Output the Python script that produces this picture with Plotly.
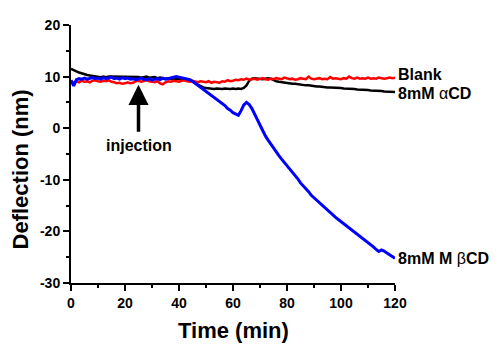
import plotly.graph_objects as go

time_min = list(range(0, 121))

blank = [
    9.0, 8.8, 9.1, 8.9, 9.2, 9.0, 9.1, 8.9, 9.2, 9.3,
    9.1, 9.0, 9.2, 9.1, 9.3, 9.0, 8.9, 8.7, 8.8, 8.6,
    8.7, 8.9, 8.7, 8.8, 9.1, 9.2, 9.0, 9.1, 9.3, 9.1,
    9.0, 8.9, 9.1, 8.7, 8.5, 8.9, 9.1, 9.0, 9.2, 9.1,
    9.0, 9.2, 9.3, 9.1, 9.0, 9.2, 9.0, 8.9, 9.1, 9.0,
    8.9, 9.1, 8.8, 9.0, 8.9, 8.8, 9.1, 9.0, 9.3, 9.1,
    9.2, 9.4, 9.3, 9.5, 9.4, 9.6, 9.4, 9.5, 9.6, 9.4,
    9.5, 9.7, 9.5, 9.4, 9.6, 9.5, 9.7, 9.6, 9.5, 9.8,
    9.6, 9.5, 9.6, 9.4, 9.5, 9.7, 9.6, 9.5, 10.0, 9.6,
    9.5, 9.6, 9.7, 9.5, 9.6, 9.5, 9.9, 9.6, 9.7, 9.6,
    9.5, 9.7, 9.6, 10.0, 9.7, 9.6, 9.8, 9.6, 9.7, 9.6,
    9.8, 9.6, 9.7, 9.6, 9.8, 9.7, 9.6, 9.7, 9.8, 9.7,
    9.8,
]

alpha_cd = [
    11.5, 11.2, 11.0, 10.8, 10.6, 10.5, 10.3, 10.2, 10.1, 10.0,
    10.0, 9.9, 10.0, 9.9, 10.0, 10.0, 9.9, 10.0, 9.9, 10.0,
    9.9, 10.0, 9.9, 9.9, 10.0, 9.9, 9.8, 9.9, 10.0, 9.8,
    9.8, 9.9, 9.7, 9.8, 9.7, 9.6, 9.7, 9.6, 9.5, 9.6,
    9.5, 9.5, 9.6, 9.5, 9.3, 9.0, 8.7, 8.4, 8.1, 7.9,
    7.8, 7.7, 7.7, 7.6, 7.7, 7.6, 7.6, 7.7, 7.6, 7.6,
    7.7, 7.6, 7.7, 7.6, 7.8, 8.3, 9.2, 9.6, 9.7, 9.6,
    9.6, 9.5, 9.6, 9.7, 9.6, 9.3, 9.1, 9.0, 8.9, 8.8,
    8.8, 8.7, 8.6, 8.6, 8.5, 8.5, 8.4, 8.3, 8.3, 8.2,
    8.2, 8.1, 8.1, 8.0, 8.0, 7.9, 7.9, 7.9, 7.8, 7.8,
    7.8, 7.7, 7.7, 7.6, 7.6, 7.6, 7.5, 7.5, 7.5, 7.4,
    7.4, 7.3, 7.3, 7.3, 7.2, 7.2, 7.1, 7.1, 7.1, 7.0,
    7.0,
]

beta_cd = [
    9.3, 8.2, 9.4, 9.6, 9.5, 9.7, 9.5, 9.6, 9.8, 9.6,
    9.7, 9.5, 9.8, 9.6, 9.7, 9.9, 9.6, 9.7, 9.5, 9.8,
    9.6, 9.7, 9.5, 9.6, 9.4, 9.5, 9.7, 9.5, 9.4, 9.6,
    9.3, 9.5, 9.6, 9.4, 9.7, 9.5, 9.6, 9.8, 9.9, 10.0,
    9.9, 9.8, 9.7, 9.6, 9.4, 9.1, 8.7, 8.3, 7.9, 7.5,
    7.1, 6.8, 6.3, 6.0, 5.5, 5.2, 4.7, 4.4, 3.8, 3.5,
    3.0, 2.7, 2.5, 3.4, 4.5, 5.0, 4.6, 3.8, 2.7, 1.6,
    0.5, -0.6, -1.5, -2.3, -3.1, -3.8, -4.5, -5.3, -6.0, -6.6,
    -7.2, -7.9, -8.5, -9.2, -9.8, -10.6, -11.1, -11.8, -12.3, -13.0,
    -13.5, -14.0, -14.4, -14.9, -15.4, -15.8, -16.3, -16.8, -17.3, -17.7,
    -18.1, -18.5, -18.9, -19.3, -19.8, -20.2, -20.6, -21.0, -21.4, -21.8,
    -22.2, -22.6, -23.0, -23.5, -23.9, -23.6, -23.8, -24.2, -24.5, -24.8,
    -25.2,
]

x_ticks = [0, 20, 40, 60, 80, 100, 120]
x_tick_labels = ["0", "20", "40", "60", "80", "100", "120"]
y_ticks = [-30, -20, -10, 0, 10, 20]
y_tick_labels = ["-30", "-20", "-10", "0", "10", "20"]

injection_time = 25

FONT = "Arial, Liberation Sans, sans-serif"

fig = go.Figure()
fig.add_trace(go.Scatter(x=time_min, y=alpha_cd, mode="lines",
                         line=dict(color="black", width=2.5), showlegend=False))
fig.add_trace(go.Scatter(x=time_min, y=blank, mode="lines",
                         line=dict(color="#ff0000", width=2.5), showlegend=False))
fig.add_trace(go.Scatter(x=time_min, y=beta_cd, mode="lines",
                         line=dict(color="#0000ff", width=3), showlegend=False))

lab_font = dict(family=FONT, size=16, color="black")
fig.add_annotation(x=120, y=10.5, xref="x", yref="y", text="<b>Blank</b>",
                   showarrow=False, xanchor="left", xshift=1, font=lab_font)
fig.add_annotation(x=120, y=6.8, xref="x", yref="y", text="<b>8mM </b>α<b>CD</b>",
                   showarrow=False, xanchor="left", xshift=1, font=lab_font)
fig.add_annotation(x=120, y=-25.2, xref="x", yref="y", text="<b>8mM M </b>β<b>CD</b>",
                   showarrow=False, xanchor="left", xshift=1, font=lab_font)

# injection arrow
fig.add_annotation(x=injection_time, y=8.4, ax=injection_time, ay=-1.0,
                   xref="x", yref="y", axref="x", ayref="y", text="",
                   showarrow=True, arrowhead=2, arrowsize=1.15, arrowwidth=3.5,
                   arrowcolor="black")
fig.add_annotation(x=injection_time, y=-3.3, xref="x", yref="y", text="<b>injection</b>",
                   showarrow=False, font=lab_font)

# axis titles
title_font = dict(family=FONT, size=22, color="black")
fig.add_annotation(x=0.5, y=0, xref="paper", yref="paper", text="<b>Time (min)</b>",
                   showarrow=False, xanchor="center", yanchor="middle", yshift=-47,
                   font=title_font)
fig.add_annotation(x=0, y=-8, xref="paper", yref="y", text="<b>Deflection (nm)</b>",
                   showarrow=False, xanchor="center", yanchor="middle", xshift=-51,
                   textangle=-90, font=title_font)

fig.update_layout(
    width=492, height=347,
    margin=dict(l=63, r=105, t=17, b=72),
    paper_bgcolor="white", plot_bgcolor="white",
    font=dict(family=FONT, color="black"),
    xaxis=dict(range=[0, 120], tickvals=x_ticks, ticktext=x_tick_labels,
               ticks="outside", ticklen=6, tickwidth=2, tickcolor="black",
               showline=True, linecolor="black", linewidth=2,
               showgrid=False, zeroline=False, automargin=False,
               tickfont=dict(family=FONT, size=14, color="black", weight="bold"),
               minor=dict(dtick=10, tick0=0, ticks="outside", ticklen=3, tickwidth=2, tickcolor="black")),
    yaxis=dict(range=[-30, 20], tickvals=y_ticks, ticktext=y_tick_labels,
               ticks="outside", ticklen=6, tickwidth=2, tickcolor="black",
               showline=True, linecolor="black", linewidth=2,
               showgrid=False, zeroline=False, automargin=False,
               tickfont=dict(family=FONT, size=14, color="black", weight="bold"),
               minor=dict(dtick=5, tick0=0, ticks="outside", ticklen=3, tickwidth=2, tickcolor="black")),
)

fig.write_html("out.html")
